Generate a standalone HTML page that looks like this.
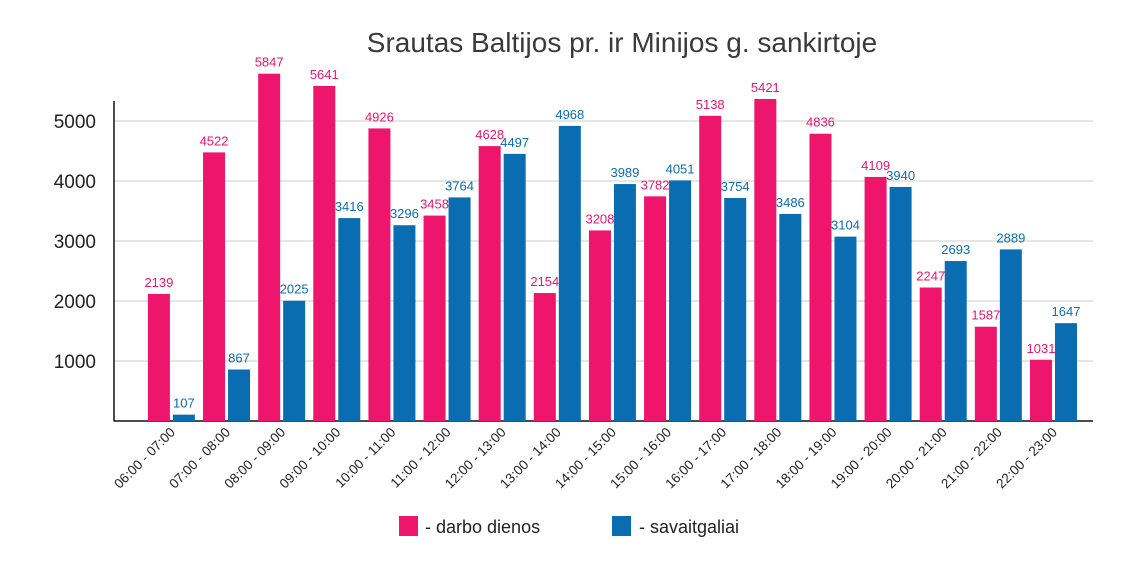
<!DOCTYPE html>
<html><head><meta charset="utf-8"><style>
body{margin:0;background:#fff;width:1140px;height:561px;overflow:hidden}
svg{font-family:"Liberation Sans",sans-serif}
</style></head><body>
<svg id="chart" width="1140" height="561">
<text x="622" y="52" text-anchor="middle" font-size="28" fill="#3a3a3a">Srautas Baltijos pr. ir Minijos g. sankirtoje</text>
<g id="grid"></g><g id="bars"></g><g id="labels"></g>
<g>
<rect x="399" y="516" width="19" height="20" fill="#ee156c"/>
<text x="425" y="533" font-size="18" fill="#222">- darbo dienos</text>
<rect x="612" y="516" width="19" height="20" fill="#0a6db2"/>
<text x="639" y="533" font-size="18" fill="#222">- savaitgaliai</text>
</g>
</svg>
<script>
const categories=["06:00 - 07:00","07:00 - 08:00","08:00 - 09:00","09:00 - 10:00","10:00 - 11:00","11:00 - 12:00","12:00 - 13:00","13:00 - 14:00","14:00 - 15:00","15:00 - 16:00","16:00 - 17:00","17:00 - 18:00","18:00 - 19:00","19:00 - 20:00","20:00 - 21:00","21:00 - 22:00","22:00 - 23:00"];
const weekdays=[2139,4522,5847,5641,4926,3458,4628,2154,3208,3782,5138,5421,4836,4109,2247,1587,1031];
const weekends=[107,867,2025,3416,3296,3764,4497,4968,3989,4051,3754,3486,3104,3940,2693,2889,1647];
const yTicks=[1000,2000,3000,4000,5000];
const NS="http://www.w3.org/2000/svg";
const x0=114,x1=1093,yBase=421;
const y=v=>yBase-v*0.06;
const yb=v=>yBase-v*0.0594;
const band=55.13, bw=22;
const gx=i=>147.9+i*band;
function mk(t,a,p){const e=document.createElementNS(NS,t);for(const k in a)e.setAttribute(k,a[k]);p.appendChild(e);return e;}
const grid=document.getElementById('grid'),bars=document.getElementById('bars'),labels=document.getElementById('labels');
yTicks.forEach(t=>{
 const l=mk('line',{x1:x0,x2:x1,y1:y(t),y2:y(t),stroke:'#ccc','stroke-width':1},grid);
 
 
 const tx=mk('text',{x:96,y:y(t)+7,'text-anchor':'end','font-size':19,fill:'#222'},grid);
 tx.textContent=t;
 
 
});
const ax=mk('line',{x1:x0,x2:x0,y1:101,y2:yBase+0.5,stroke:'#111','stroke-width':1.5},grid);


const bl=mk('line',{x1:x0,x2:x1,y1:yBase,y2:yBase,stroke:'#111','stroke-width':1.5},grid);


categories.forEach((c,i)=>{
 const series=[[weekdays[i],'#ee156c',gx(i)],[weekends[i],'#0a6db2',gx(i)+bw+3]];
 series.forEach(([v,col,bx],k)=>{
  const r=mk('rect',{x:bx,y:yb(v),width:bw,height:yBase-yb(v),fill:col},bars);
  
  
  const t=mk('text',{x:bx+bw/2,y:yb(v)-7,'text-anchor':'middle','font-size':13,fill:col},labels);
  t.textContent=v;
  
  
 });
 const cx=gx(i)+bw+6, cy=433;
 const t=mk('text',{x:cx,y:cy,'text-anchor':'end','font-size':13.5,fill:'#222',transform:`rotate(-45 ${cx} ${cy})`},labels);
 t.textContent=c;
 
 
});
</script>
</body></html>
